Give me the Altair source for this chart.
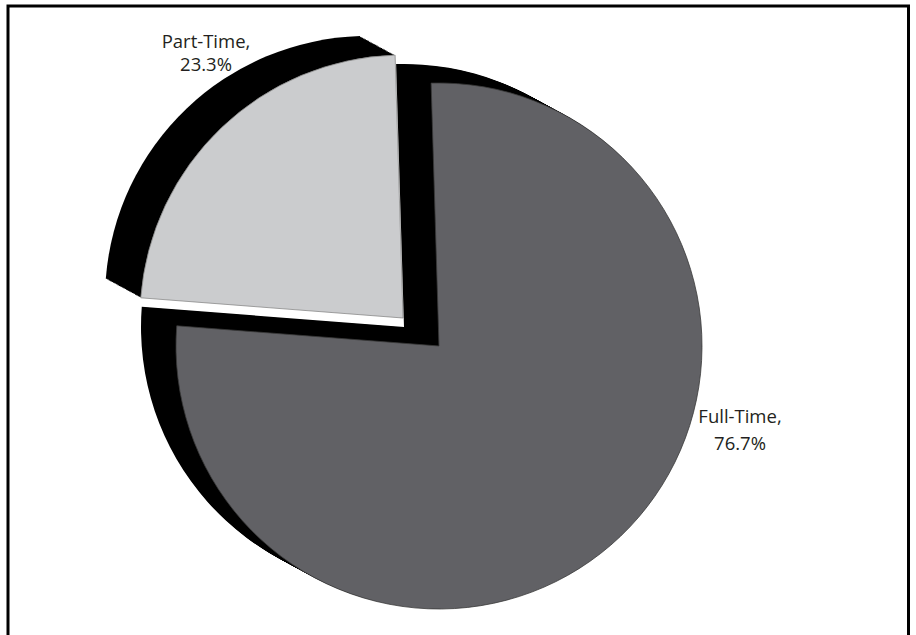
import math
import altair as alt
import pandas as pd

# ---- data ----
categories = ["Full-Time", "Part-Time"]
shares = [76.7, 23.3]

df = pd.DataFrame({"category": categories, "share": shares})

# ---- styling / geometry ----
W, H = 916, 635
R = 263
DX, DY = -35, -19          # depth of the black extrusion
N_STEPS = 24
ROT = -0.03                # slight rotation of the pie (radians)
FULL_C = (439, 346)
PART_C = (403, 318)
FULL_COLOR = "#616165"
PART_COLOR = "#cbccce"

theta_scale = alt.Scale(domain=[0, 100], range=[ROT, ROT + 2 * math.pi])

base = alt.Chart(df).transform_window(
    cum="sum(share)", frame=[None, 0]
).transform_calculate(
    start="datum.cum - datum.share",
    label="datum.category + ',|' + format(datum.share, '.1f') + '%'",
)


def arc_enc(cx, cy):
    return dict(
        theta=alt.Theta("start:Q", scale=theta_scale),
        theta2="cum:Q",
        x=alt.value(cx),
        y=alt.value(cy),
    )


def slice_layers(cat, center, color, stroke):
    b = base.transform_filter(alt.datum.category == cat)
    layers = []
    for k in range(N_STEPS, 0, -1):
        f = k / N_STEPS
        layers.append(
            b.mark_arc(radius=R, fill="black").encode(
                **arc_enc(center[0] + DX * f, center[1] + DY * f)
            )
        )
    layers.append(
        b.mark_arc(radius=R, fill=color, stroke=stroke, strokeWidth=0.8).encode(
            **arc_enc(center[0], center[1])
        )
    )
    return layers


def label_layer(cat, x, y, line_height):
    return base.transform_filter(alt.datum.category == cat).mark_text(
        font="Open Sans",
        fontSize=18.5,
        lineBreak="|",
        lineHeight=line_height,
        align="center",
        baseline="alphabetic",
        color="#231f20",
    ).encode(text="label:N", x=alt.value(x), y=alt.value(y))


frame = alt.Chart(pd.DataFrame({"a": [0]})).mark_rect(
    filled=False, stroke="black", strokeWidth=3
).encode(
    x=alt.value(8), x2=alt.value(908.5), y=alt.value(6), y2=alt.value(720)
)

layers = []
layers += slice_layers("Part-Time", PART_C, PART_COLOR, "#8a8a8a")
layers += slice_layers("Full-Time", FULL_C, FULL_COLOR, "#3a3a3a")
layers.append(label_layer("Part-Time", 206, 48, 23))
layers.append(label_layer("Full-Time", 740, 423, 27))
layers.append(frame)

chart = alt.layer(*layers).properties(
    width=W, height=H, padding=0, autosize="none", background="white"
).configure_view(strokeWidth=0)

chart.save("out.html", embed_options={"renderer": "svg", "actions": False})
